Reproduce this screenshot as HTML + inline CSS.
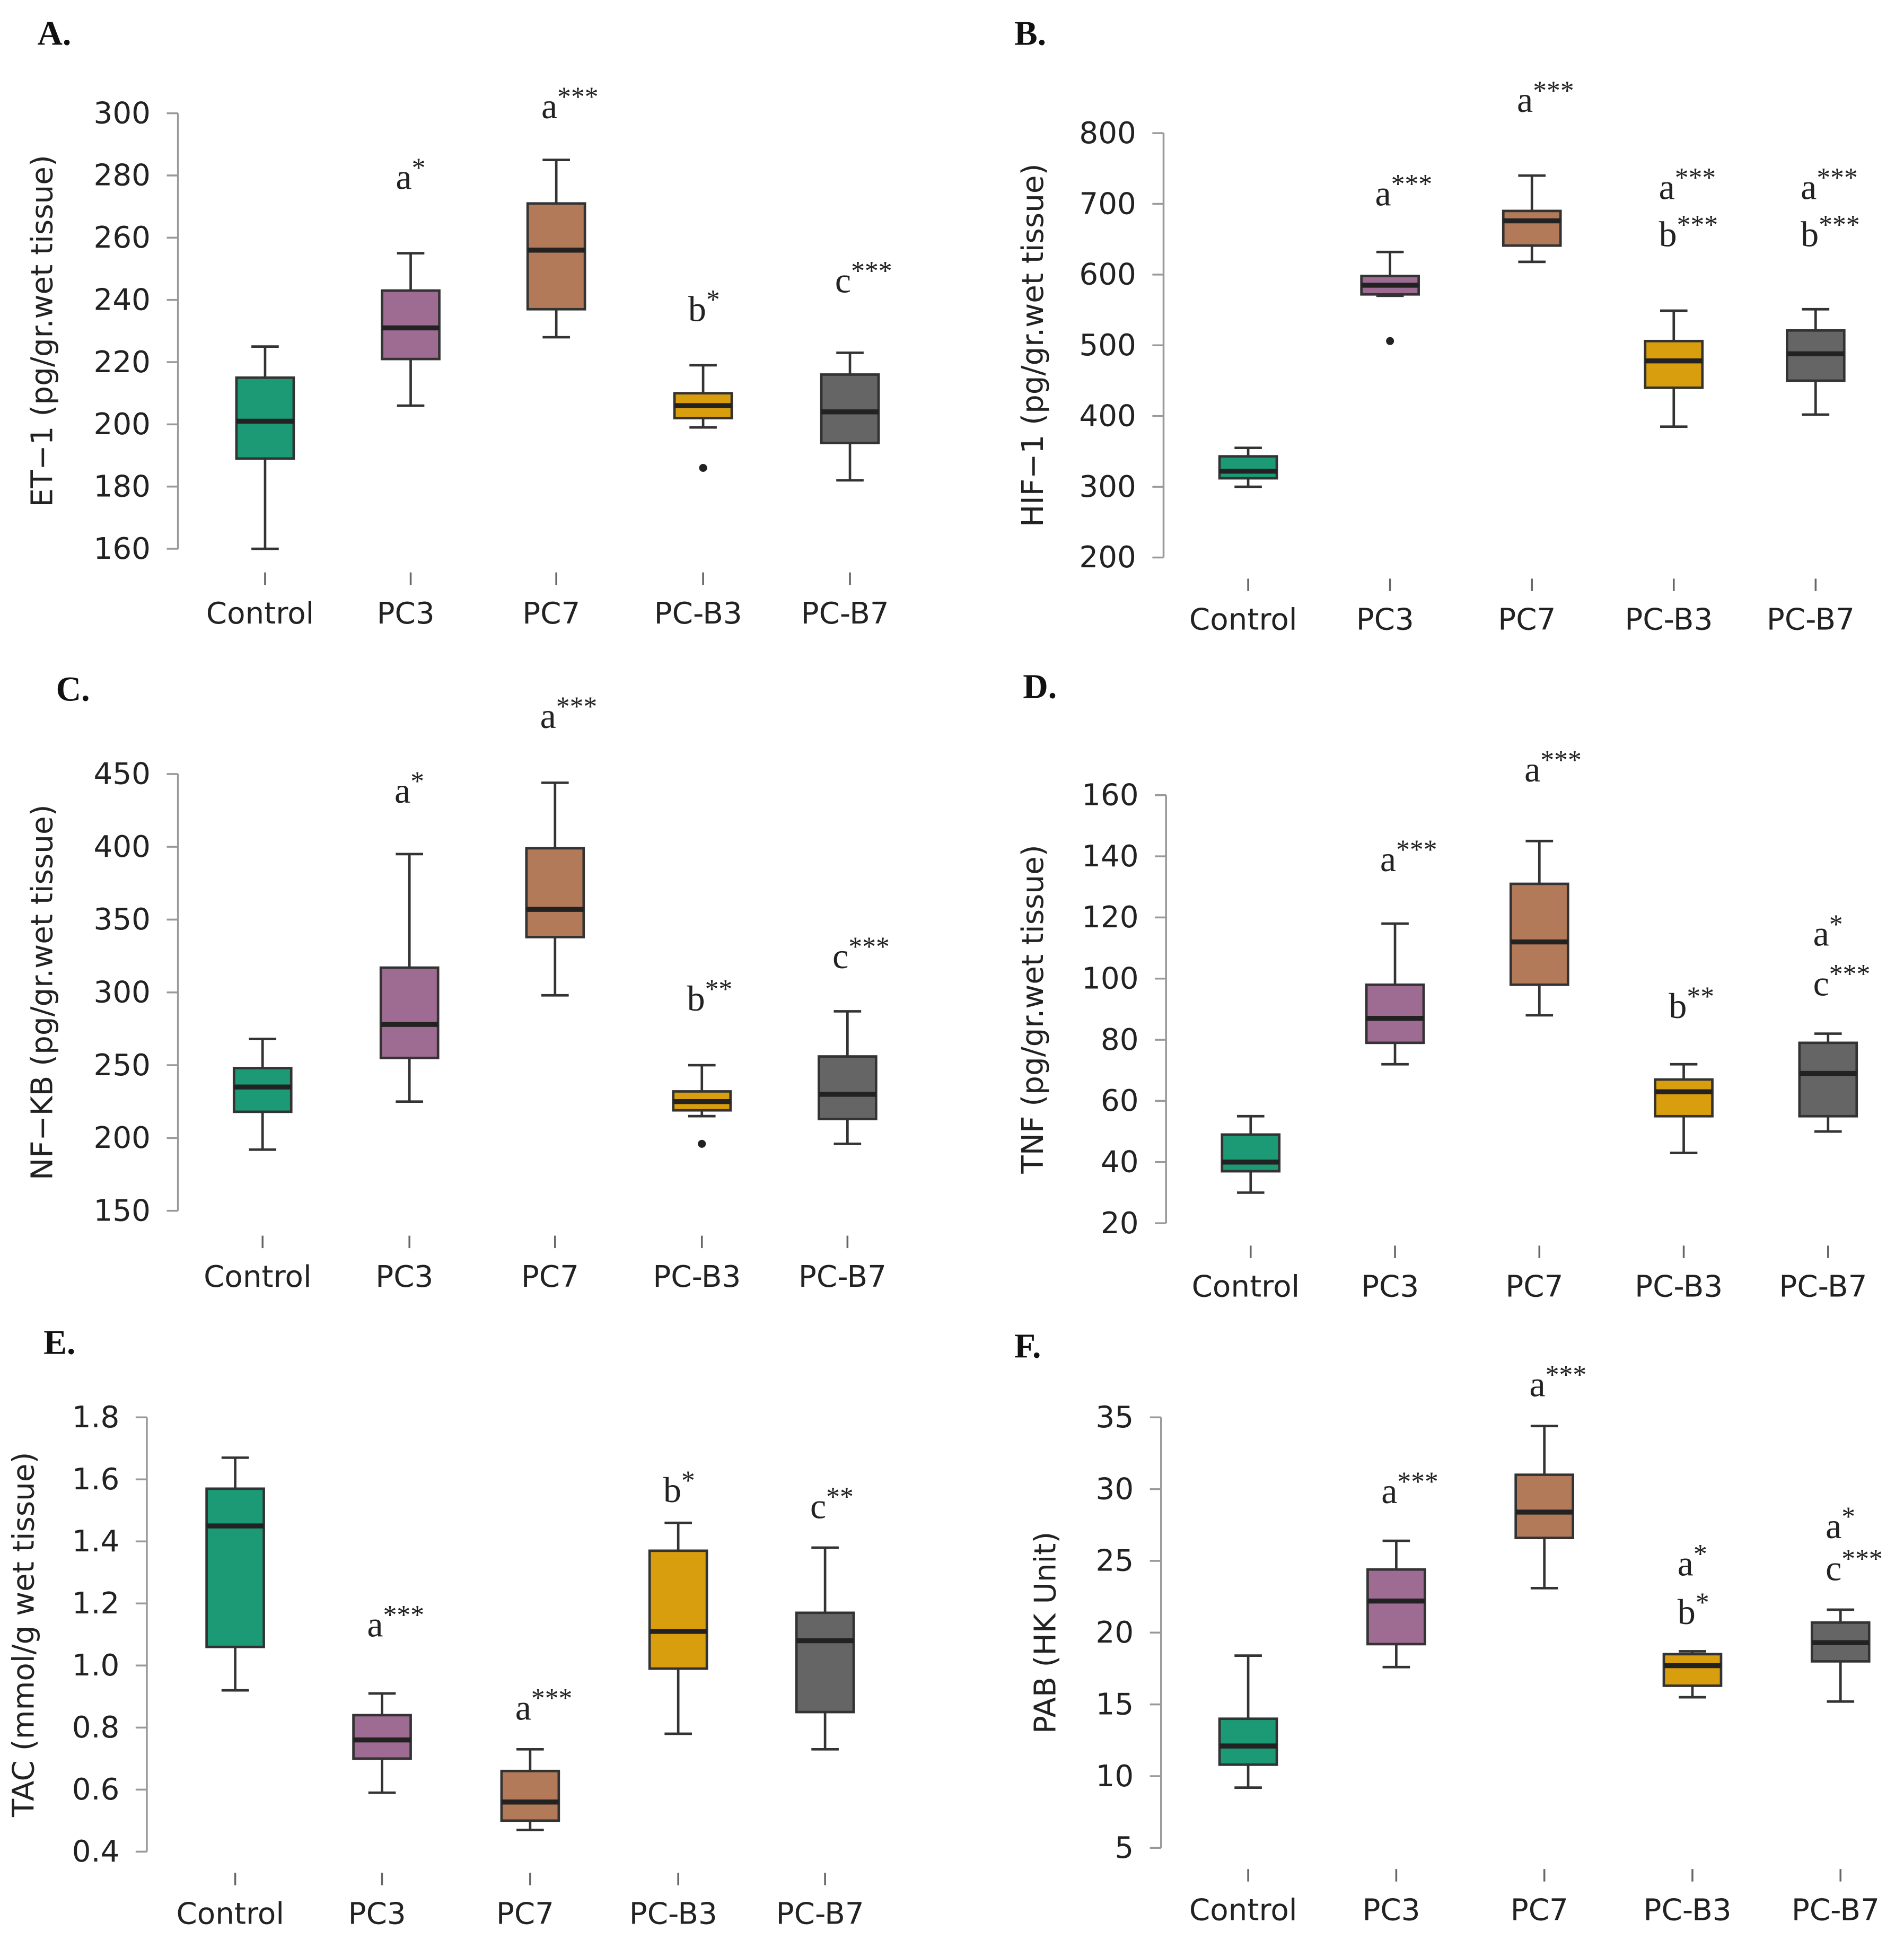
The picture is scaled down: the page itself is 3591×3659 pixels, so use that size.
<!DOCTYPE html>
<html><head><meta charset="utf-8"><style>
html,body{margin:0;padding:0;background:#fff;}
svg{display:block;}
.tk{font-family:"DejaVu Sans","Liberation Sans",sans-serif;font-size:24px;fill:#222;}
.an{font-family:"Liberation Serif",serif;font-size:29px;fill:#222;}
.pl{font-family:"Liberation Serif",serif;font-size:28px;font-weight:bold;fill:#111;}
</style></head><body>
<svg id="chart" width="3591" height="3659" viewBox="0 0 1530 1559" xmlns="http://www.w3.org/2000/svg"></svg>
<script>
const categories = ["Control","PC3","PC7","PC-B3","PC-B7"];
const colors = ["#1b9a75","#9e6b92","#b27a59","#d99e0d","#656565"];
// [low whisker, q1, median, q3, high whisker]
const etData = [[160,189,201,215,225],[206,221,231,243,255],[228,237,256,271,285],[199,202,206,210,219],[182,194,204,216,223]];
const etOut = [null,null,null,186,null];
const etTicks = [160,180,200,220,240,260,280,300];
const etAnn = [[],["a*"],["a***"],["b*"],["c***"]];
const hifData = [[300,312,322,343,355],[570,572,585,598,632],[618,641,676,690,740],[385,440,478,506,549],[402,450,488,521,551]];
const hifOut = [null,506,null,null,null];
const hifTicks = [200,300,400,500,600,700,800];
const hifAnn = [[],["a***"],["a***"],["a***","b***"],["a***","b***"]];
const nfData = [[192,218,235,248,268],[225,255,278,317,395],[298,338,357,399,444],[215,219,225,232,250],[196,213,230,256,287]];
const nfOut = [null,null,null,196,null];
const nfTicks = [150,200,250,300,350,400,450];
const nfAnn = [[],["a*"],["a***"],["b**"],["c***"]];
const tnfData = [[30,37,40,49,55],[72,79,87,98,118],[88,98,112,131,145],[43,55,63,67,72],[50,55,69,79,82]];
const tnfOut = [null,null,null,null,null];
const tnfTicks = [20,40,60,80,100,120,140,160];
const tnfAnn = [[],["a***"],["a***"],["b**"],["a*","c***"]];
const tacData = [[0.92,1.06,1.45,1.57,1.67],[0.59,0.70,0.76,0.84,0.91],[0.47,0.50,0.56,0.66,0.73],[0.78,0.99,1.11,1.37,1.46],[0.73,0.85,1.08,1.17,1.38]];
const tacOut = [null,null,null,null,null];
const tacTicks = ["0.4","0.6","0.8","1.0","1.2","1.4","1.6","1.8"];
const tacAnn = [[],["a***"],["a***"],["b*"],["c**"]];
const pabData = [[9.2,10.8,12.1,14,18.4],[17.6,19.2,22.2,24.4,26.4],[23.1,26.6,28.4,31,34.4],[15.5,16.3,17.7,18.5,18.7],[15.2,18.0,19.3,20.7,21.6]];
const pabOut = [null,null,null,null,null];
const pabTicks = [5,10,15,20,25,30,35];
const pabAnn = [[],["a***"],["a***"],["a*","b*"],["a*","c***"]];

const NS="http://www.w3.org/2000/svg";
const svg=document.getElementById('chart');
function mk(tag,attrs,parent){const e=document.createElementNS(NS,tag);for(const k in attrs)e.setAttribute(k,attrs[k]);(parent||svg).appendChild(e);return e;}

// layout: annotation baselines (pixel layout, not data)
const panels=[
 {key:"a",letter:"A.",lx:30,ly:36,data:etData,out:etOut,ticks:etTicks,ann:etAnn,annY:[[],[152],[95],[258],[235]],title:"ET\u22121 (pg/gr.wet tissue)",ax:143,yTop:91,yBot:441,cx:[213,330,447,565,683],labY:501,tx:42},
 {key:"b",letter:"B.",lx:815,ly:36,data:hifData,out:hifOut,ticks:hifTicks,ann:hifAnn,annY:[[],[165],[90],[160,198],[160,198]],title:"HIF\u22121 (pg/gr.wet tissue)",ax:935,yTop:107,yBot:448,cx:[1003,1117,1231,1345,1459],labY:506,tx:838},
 {key:"c",letter:"C.",lx:45,ly:563,data:nfData,out:nfOut,ticks:nfTicks,ann:nfAnn,annY:[[],[645],[585],[812],[778]],title:"NF\u2212KB (pg/gr.wet tissue)",ax:143,yTop:622,yBot:973,cx:[211,329,446,564,681],labY:1034,tx:42},
 {key:"d",letter:"D.",lx:822,ly:561,data:tnfData,out:tnfOut,ticks:tnfTicks,ann:tnfAnn,annY:[[],[700],[628],[818],[760,800]],title:"TNF (pg/gr.wet tissue)",ax:937,yTop:639,yBot:983,cx:[1005,1121,1237,1353,1469],labY:1042,tx:838},
 {key:"e",letter:"E.",lx:35,ly:1088,data:tacData,out:tacOut,ticks:tacTicks,ann:tacAnn,annY:[[],[1315],[1382],[1207],[1220]],title:"TAC (mmol/g wet tissue)",ax:118,yTop:1139,yBot:1488,cx:[189,307,426,545,663],labY:1546,tx:27},
 {key:"f",letter:"F.",lx:815,ly:1091,data:pabData,out:pabOut,ticks:pabTicks,ann:pabAnn,annY:[[],[1208],[1122],[1266,1305],[1236,1270]],title:"PAB (HK Unit)",ax:933,yTop:1139,yBot:1485,cx:[1003,1122,1241,1360,1479],labY:1543,tx:848}
];

panels.forEach(p=>{
 const g=mk('g',{});
 
 
 const tv=p.ticks.map(Number);
 const lo=tv[0],hi=tv[tv.length-1];
 const y=v=>p.yBot-(v-lo)/(hi-lo)*(p.yBot-p.yTop);
 const L=mk('text',{x:p.lx,y:p.ly,class:'pl'},g);L.textContent=p.letter;
 
 
 const axl=mk('line',{x1:p.ax,x2:p.ax,y1:p.yTop,y2:p.yBot,stroke:'#999','stroke-width':1.5},g);
 
 
 p.ticks.forEach(t=>{
  const yy=y(Number(t));
  mk('line',{x1:p.ax-9,x2:p.ax,y1:yy,y2:yy,stroke:'#999','stroke-width':1.5},g);
  const tt=mk('text',{x:p.ax-22,y:yy+8,class:'tk','text-anchor':'end'},g);tt.textContent=t;
  
  
 });
 const yt=mk('text',{x:p.tx,y:(p.yTop+p.yBot)/2,class:'tk','text-anchor':'middle',transform:`rotate(-90 ${p.tx} ${(p.yTop+p.yBot)/2})`},g);
 yt.textContent=p.title;
 
 
 categories.forEach((c,i)=>{
  const x=p.cx[i],d=p.data[i],w=23;
  mk('line',{x1:x,x2:x,y1:p.labY-41,y2:p.labY-31,stroke:'#666','stroke-width':1.5},g);
  const cl=mk('text',{x:x-4,y:p.labY,class:'tk','text-anchor':'middle'},g);cl.textContent=c;
  
  
  const bg=mk('g',{},g);
  
  
  const s={stroke:'#333','stroke-width':2};
  mk('line',Object.assign({x1:x,x2:x,y1:y(d[0]),y2:y(d[1])},s),bg);
  mk('line',Object.assign({x1:x,x2:x,y1:y(d[3]),y2:y(d[4])},s),bg);
  mk('line',Object.assign({x1:x-11,x2:x+11,y1:y(d[0]),y2:y(d[0])},s),bg);
  mk('line',Object.assign({x1:x-11,x2:x+11,y1:y(d[4]),y2:y(d[4])},s),bg);
  mk('rect',{x:x-w,y:y(d[3]),width:2*w,height:y(d[1])-y(d[3]),fill:colors[i],stroke:'#333','stroke-width':2},bg);
  mk('line',{x1:x-w,x2:x+w,y1:y(d[2]),y2:y(d[2]),stroke:'#222','stroke-width':4},bg);
  if(p.out[i]!=null){const o=mk('circle',{cx:x,cy:y(p.out[i]),r:3.2,fill:'#222'},bg);
   
   }
  const anns=p.ann[i];
  anns.forEach((a,j)=>{
   const ay=p.annY[i][j];
   const at=mk('text',{x:x-12,y:ay,class:'an','text-anchor':'start'},g);
   const t1=mk('tspan',{},at);t1.textContent=a[0];
   const t2=mk('tspan',{dy:-10,'font-size':22},at);t2.textContent=a.slice(1);
   
   
  });
 });
});
</script>
</body></html>
